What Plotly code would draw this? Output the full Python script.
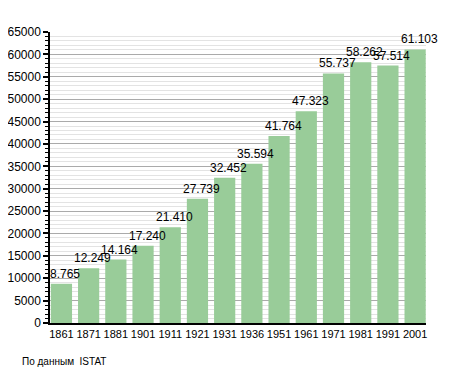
import plotly.graph_objects as go

years = ["1861", "1871", "1881", "1901", "1911", "1921", "1931", "1936",
         "1951", "1961", "1971", "1981", "1991", "2001"]
population = [8765, 12249, 14164, 17240, 21410, 27739, 32452, 35594,
              41764, 47323, 55737, 58262, 57514, 61103]
labels = ["8.765", "12.249", "14.164", "17.240", "21.410", "27.739", "32.452",
          "35.594", "41.764", "47.323", "55.737", "58.262", "57.514", "61.103"]
y_ticks = list(range(0, 65001, 5000))

FONT = "Liberation Sans, Arial, sans-serif"

fig = go.Figure()
fig.add_trace(go.Bar(
    x=list(range(len(years))),
    y=population,
    marker=dict(color="#99cc99", line=dict(width=0)),
    hoverinfo="skip",
))

for i, (v, t) in enumerate(zip(population, labels)):
    fig.add_annotation(x=i, y=v, text=t, showarrow=False, yanchor="bottom",
                       xanchor="center", xshift=4, yshift=1,
                       font=dict(family=FONT, size=12, color="black"))

fig.add_annotation(text="По данным  ISTAT", xref="paper", yref="paper",
                   x=-0.08, y=-0.134, xanchor="left", yanchor="middle",
                   showarrow=False,
                   font=dict(family=FONT, size=10, color="black"))

# page body adds an 8px offset, so the figure is sized to fit the window
fig.update_layout(
    width=447, height=365,
    margin=dict(l=42, r=29, t=24, b=50, autoexpand=False),
    paper_bgcolor="white", plot_bgcolor="white",
    bargap=0.22,
    showlegend=False,
    font=dict(family=FONT, size=11, color="black"),
    xaxis=dict(
        tickmode="array", tickvals=list(range(len(years))), ticktext=years,
        range=[-0.42, 13.4], showgrid=False, ticks="",
        showline=True, linecolor="black", linewidth=1.5,
        tickfont=dict(size=11), fixedrange=True, automargin=False,
    ),
    yaxis=dict(
        range=[0, 65000], tickvals=y_ticks, tickformat="d",
        showgrid=True, gridcolor="#aaaaaa", gridwidth=1,
        ticks="outside", ticklen=5, tickcolor="black", tickwidth=1.5,
        showline=True, linecolor="black", linewidth=1.5,
        zeroline=False, tickfont=dict(size=12),
        minor=dict(dtick=1000, showgrid=True, gridcolor="#e3e3e3",
                   gridwidth=1, ticks="outside", ticklen=3,
                   tickcolor="black", tickwidth=1),
        fixedrange=True, automargin=False,
    ),
)

fig.write_html("out.html", config={"displayModeBar": False})
